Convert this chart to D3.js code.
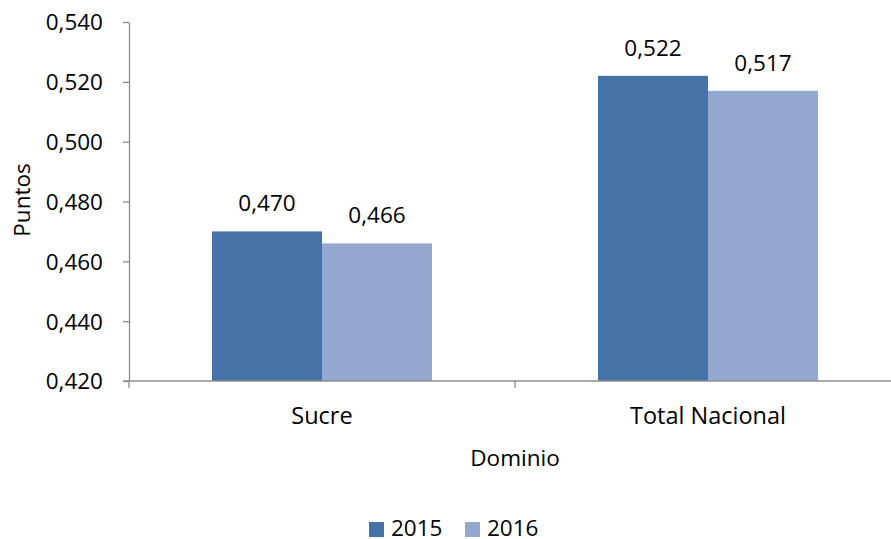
<!DOCTYPE html>
<html><head><meta charset="utf-8">
<script src="https://cdn.jsdelivr.net/npm/d3@7"></script>
<style>body{margin:0;background:#fff}svg{display:block}text{font-family:"Open Sans",sans-serif;fill:#000}</style>
</head><body><svg id="c" width="891" height="539"></svg>
<script>
const categories = ["Sucre", "Total Nacional"];
const seriesNames = ["2015", "2016"];
const values2015 = [0.470, 0.522];
const values2016 = [0.466, 0.517];
const yTicks = [0.420, 0.440, 0.460, 0.480, 0.500, 0.520, 0.540];
const colors = ["#4572A7", "#95A9D0"];

(function () {
const svg = d3.select("#c");
const mLeft = 129, mRight = 901, mTop = 22, mBottom = 381;
const FS = "22.5px", FS2 = "23.5px";
const fmt = d => d3.format(".3f")(d).replace(".", ",");

const x = d3.scaleBand().domain(categories).range([mLeft, mRight]).paddingInner(0).paddingOuter(0);
const x1 = d3.scaleBand().domain(seriesNames).range([0, 220]);
const barOffset = (x.bandwidth() - 220) / 2;
const y = d3.scaleLinear().domain([0.42, 0.54]).range([mBottom, mTop]);

const series = [values2015, values2016];
series.forEach((vals, si) => {
  svg.append("g").selectAll("rect").data(categories).join("rect")
    .attr("x", c => x(c) + barOffset + x1(seriesNames[si]))
    .attr("width", x1.bandwidth())
    .attr("y", (c, i) => y(vals[i]))
    .attr("height", (c, i) => y(0.42) - y(vals[i]))
    .attr("fill", colors[si]);
  svg.append("g").selectAll("text").data(categories).join("text")
    .attr("x", c => x(c) + barOffset + x1(seriesNames[si]) + x1.bandwidth() / 2)
    .attr("y", (c, i) => y(vals[i]) - 20)
    .attr("text-anchor", "middle")
    .style("font-size", FS)
    .text((c, i) => fmt(vals[i]));
});

const yAxis = d3.axisLeft(y).tickValues(yTicks).tickFormat(fmt).tickSizeInner(6).tickSizeOuter(0).tickPadding(20);
const gy = svg.append("g").attr("transform", `translate(${mLeft},0)`).call(yAxis);
gy.select(".domain").attr("stroke", "#8c8c8c").attr("stroke-width", 1.3);
gy.selectAll(".tick line").attr("stroke", "#8c8c8c").attr("stroke-width", 1.3);
gy.selectAll(".tick text").style("font-size", FS).style("font-family", "Open Sans").attr("fill", "#000").attr("dy", "0.35em");

const gx = svg.append("g").attr("transform", `translate(0,${mBottom})`);
gx.append("line").attr("x1", mLeft - 6).attr("x2", 891).attr("y1", 0).attr("y2", 0).attr("stroke", "#8c8c8c").attr("stroke-width", 1.3);
const boundaries = categories.map(c => x(c)).concat([x(categories[1]) + x.bandwidth()]);
gx.selectAll("line.tk").data(boundaries).join("line").attr("class", "tk")
  .attr("x1", d => d).attr("x2", d => d).attr("y1", 0).attr("y2", 7)
  .attr("stroke", "#8c8c8c").attr("stroke-width", 1.3);
gx.selectAll("text").data(categories).join("text")
  .attr("x", c => x(c) + x.bandwidth() / 2).attr("y", 43)
  .attr("text-anchor", "middle").style("font-size", FS2).text(c => c);

svg.append("text").attr("transform", "translate(30,200) rotate(-90)").attr("text-anchor", "middle").style("font-size", FS).text("Puntos");
svg.append("text").attr("x", 515).attr("y", 466).attr("text-anchor", "middle").style("font-size", FS).text("Dominio");

const lg = svg.append("g");
const legendItems = [{n: seriesNames[0], x: 369}, {n: seriesNames[1], x: 465}];
legendItems.forEach((it, i) => {
  lg.append("rect").attr("x", it.x).attr("y", 522).attr("width", 15).attr("height", 15).attr("fill", colors[i]);
  lg.append("text").attr("x", it.x + 22).attr("y", 535.5).style("font-size", FS).text(it.n);
});
})();
</script></body></html>
